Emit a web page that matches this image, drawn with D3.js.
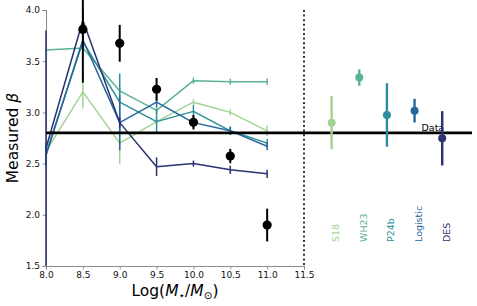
<!DOCTYPE html>
<html>
<head>
<meta charset="utf-8">
<script src="https://cdn.jsdelivr.net/npm/d3@7"></script>
<style>
  html, body { margin: 0; padding: 0; background: #fff; }
  svg { display: block; font-family: "DejaVu Sans", sans-serif; }
</style>
</head>
<body>
<svg id="chart" width="477" height="306"></svg>
<script>
// ---- data ----
const massBins = [8.0, 8.5, 9.0, 9.5, 10.0, 10.5, 11.0];
const seriesNames = ["S18", "WH23", "P24b", "Logistic", "DES"];
const seriesColors = ["#a3d394", "#5cb393", "#2e8e99", "#25679a", "#2c3172"];
const s18Vals = [2.62, 3.20, 2.70, 2.91, 3.10, 3.00, 2.82];
const s18Errs = [0.05, 0.16, 0.20, 0.03, 0.03, 0.03, 0.05];
const wh23Vals = [3.61, 3.63, 3.21, 3.02, 3.31, 3.30, 3.30];
const wh23Errs = [0.02, 0.03, 0.03, 0.03, 0.03, 0.03, 0.03];
const p24bVals = [2.60, 3.69, 3.10, 2.91, 3.01, 2.82, 2.70];
const p24bErrs = [0.10, 0.05, 0.28, 0.12, 0.06, 0.04, 0.04];
const logisticVals = [2.58, 3.71, 2.90, 3.10, 2.90, 2.82, 2.67];
const logisticErrs = [0.10, 0.05, 0.27, 0.05, 0.05, 0.04, 0.04];
const desVals = [2.65, 3.90, 2.90, 2.47, 2.50, 2.44, 2.40];
const desErrs = [1.15, 0.10, 0.05, 0.09, 0.03, 0.04, 0.04];

const dataX = [8.5, 9.0, 9.5, 10.0, 10.5, 11.0];
const dataY = [3.81, 3.675, 3.226, 2.903, 2.574, 1.90];
const dataErr = [0.52, 0.18, 0.11, 0.07, 0.07, 0.16];

const globalX = [11.875, 12.25, 12.625, 13.0, 13.375];
const globalY = [2.90, 3.34, 2.975, 3.017, 2.747];
const globalErr = [0.26, 0.08, 0.31, 0.115, 0.265];

const dataLevel = 2.8;
const xTicks = [8.0, 8.5, 9.0, 9.5, 10.0, 10.5, 11.0, 11.5];
const yTicks = [1.5, 2.0, 2.5, 3.0, 3.5, 4.0];

const seriesVals = [s18Vals, wh23Vals, p24bVals, logisticVals, desVals];
const seriesErrs = [s18Errs, wh23Errs, p24bErrs, logisticErrs, desErrs];

// ---- layout ----
const svg = d3.select("#chart");
const x = d3.scaleLinear().domain([8.0, 11.5]).range([46, 304]);
const y = d3.scaleLinear().domain([1.5, 4.0]).range([266, 10]);
const xRightEnd = 472;
const spineColor = "#8c8c8c";

// axes
const xAxis = svg.append("g").attr("transform", `translate(0,${y(1.5)})`)
  .call(d3.axisBottom(x).tickValues(xTicks).tickFormat(d3.format(".1f")).tickSizeOuter(0).tickSize(3.5).tickPadding(2));
const yAxis = svg.append("g").attr("transform", `translate(${x(8.0)},0)`)
  .call(d3.axisLeft(y).tickValues(yTicks).tickFormat(d3.format(".1f")).tickSizeOuter(0).tickSize(3.5).tickPadding(2.5));
[xAxis, yAxis].forEach(a => {
  a.select(".domain").attr("stroke", spineColor).attr("stroke-width", 1.1);
  a.selectAll(".tick line").attr("stroke", spineColor).attr("stroke-width", 0.9);
  a.selectAll(".tick text").attr("fill", "#111").attr("font-size", 9).attr("font-family", "DejaVu Sans");
});

// dotted separator
svg.append("line")
  .attr("x1", x(11.5)).attr("x2", x(11.5)).attr("y1", y(4.0)).attr("y2", y(1.5))
  .attr("stroke", "#333").attr("stroke-width", 2).attr("stroke-dasharray", "2,2.6");

// model series
const line = d3.line().x((d, i) => x(massBins[i])).y(d => y(d));
seriesVals.forEach((vals, k) => {
  const c = seriesColors[k];
  svg.append("path").datum(vals).attr("d", line)
    .attr("fill", "none").attr("stroke", c).attr("stroke-width", 1.5).attr("stroke-linejoin", "round");
  svg.append("g").selectAll("line").data(vals).join("line")
    .attr("x1", (d, i) => x(massBins[i])).attr("x2", (d, i) => x(massBins[i]))
    .attr("y1", (d, i) => y(d + seriesErrs[k][i])).attr("y2", (d, i) => y(Math.max(1.5, d - seriesErrs[k][i])))
    .attr("stroke", c).attr("stroke-width", 1.5);
});

// horizontal data level
svg.append("line")
  .attr("x1", x(8.0)).attr("x2", xRightEnd).attr("y1", y(dataLevel)).attr("y2", y(dataLevel))
  .attr("stroke", "#000").attr("stroke-width", 2.6);
svg.append("text").attr("x", 421.5).attr("y", y(dataLevel) - 1.5)
  .attr("font-size", 9.5).attr("fill", "#000").text("Data");

// black data points
const dg = svg.append("g");
dg.selectAll("line").data(dataY).join("line")
  .attr("x1", (d, i) => x(dataX[i])).attr("x2", (d, i) => x(dataX[i]))
  .attr("y1", (d, i) => y(d + dataErr[i])).attr("y2", (d, i) => y(d - dataErr[i]))
  .attr("stroke", "#000").attr("stroke-width", 2);
dg.selectAll("circle").data(dataY).join("circle")
  .attr("cx", (d, i) => x(dataX[i])).attr("cy", d => y(d)).attr("r", 4.6).attr("fill", "#000");

// global comparison points
const gg = svg.append("g");
gg.selectAll("line").data(globalY).join("line")
  .attr("x1", (d, i) => x(globalX[i])).attr("x2", (d, i) => x(globalX[i]))
  .attr("y1", (d, i) => y(d + globalErr[i])).attr("y2", (d, i) => y(d - globalErr[i]))
  .attr("stroke", (d, i) => seriesColors[i]).attr("stroke-width", 2.4);
gg.selectAll("circle").data(globalY).join("circle")
  .attr("cx", (d, i) => x(globalX[i])).attr("cy", d => y(d)).attr("r", 4).attr("fill", (d, i) => seriesColors[i]);
gg.selectAll("text").data(seriesNames).join("text")
  .attr("transform", (d, i) => `translate(${x(globalX[i]) + 7.5},242) rotate(-90)`)
  .attr("font-size", 9.5).attr("fill", (d, i) => seriesColors[i]).text(d => d);

// axis labels
const xl = svg.append("text").attr("x", (x(8.0) + x(11.5)) / 2).attr("y", 296)
  .attr("text-anchor", "middle").attr("font-size", 15.5).attr("fill", "#000");
xl.append("tspan").text("Log(");
xl.append("tspan").attr("font-style", "italic").text("M");
xl.append("tspan").attr("font-size", 10.5).attr("dy", 3).text("\u22C6");
xl.append("tspan").attr("dy", -3).text("/");
xl.append("tspan").attr("font-style", "italic").text("M");
xl.append("tspan").attr("font-size", 10.5).attr("dy", 3).text("\u2299");
xl.append("tspan").attr("dy", -3).text(")");

const yl = svg.append("text").attr("transform", `translate(18,${(y(1.5) + y(4.0)) / 2}) rotate(-90)`)
  .attr("text-anchor", "middle").attr("font-size", 15.5).attr("fill", "#000");
yl.append("tspan").text("Measured ");
yl.append("tspan").attr("font-style", "italic").text("\u03B2");
</script>
</body>
</html>
